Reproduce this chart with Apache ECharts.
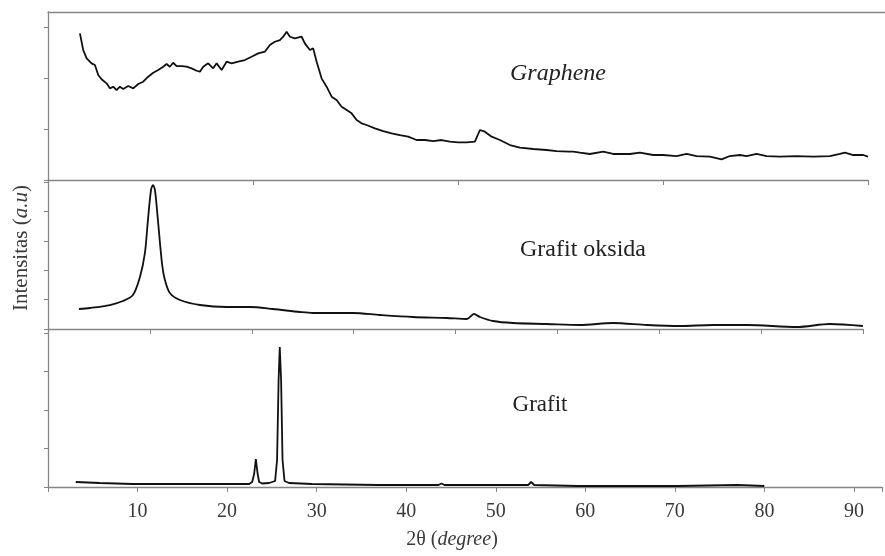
<!DOCTYPE html>
<html>
<head>
<meta charset="utf-8">
<script src="https://cdn.jsdelivr.net/npm/echarts@6/dist/echarts.min.js"></script>
<style>
  html, body { margin: 0; background: #fff; }
  #plot { width: 885px; height: 556px; }
</style>
</head>
<body>
<div id="plot"></div>
<script>
// Graphene (top panel), 2-theta vs intensity (a.u.)
const grapheneX = [3.55, 3.92, 4.30, 4.85, 5.22, 5.59, 5.96, 6.52, 6.89, 7.26, 7.63, 8.00, 8.37, 8.92, 9.48,
  10.04, 10.59, 11.15, 11.71, 12.26, 12.82, 13.20, 13.56, 13.93, 14.31, 14.87, 15.42, 15.98, 16.53, 16.90,
  17.27, 17.82, 18.38, 18.76, 19.32, 19.87, 20.43, 21.16, 21.91, 22.65, 23.39, 24.13, 24.69, 25.24, 25.80,
  26.17, 26.55, 26.92, 27.47, 28.22, 28.58, 29.14, 29.51, 29.89, 30.44, 31.00, 31.56, 32.11, 32.67, 33.23,
  33.78, 34.34, 34.89, 35.45, 36.37, 37.30, 38.23, 39.15, 40.08, 41.01, 41.94, 42.86, 43.79, 44.72, 45.64,
  46.58, 47.50, 48.06, 48.61, 49.36, 50.28, 51.40, 52.51, 53.99, 55.48, 56.59, 57.96, 58.44, 59.19, 60.29,
  61.78, 62.89, 64.75, 65.86, 67.34, 68.45, 69.94, 71.05, 72.17, 73.65, 74.95, 75.87, 76.99, 77.73, 78.84,
  79.96, 81.44, 83.29, 85.14, 87.00, 88.11, 88.67, 89.60, 90.71, 91.24];
const grapheneY = [2875, 2548, 2385, 2287, 2254, 2058, 1974, 1895, 1797, 1829, 1764, 1829, 1784, 1842, 1797,
  1882, 1927, 2025, 2103, 2156, 2221, 2274, 2221, 2299, 2234, 2234, 2221, 2189, 2142, 2123,
  2221, 2287, 2189, 2287, 2156, 2319, 2287, 2319, 2352, 2417, 2483, 2515, 2646, 2711, 2744,
  2809, 2907, 2809, 2777, 2809, 2679, 2548, 2581, 2319, 1993, 1829, 1633, 1568, 1437, 1372,
  1307, 1176, 1111, 1078, 1013, 960, 915, 882, 849, 784, 784, 764, 784, 751, 739,
  739, 751, 980, 947, 849, 784, 686, 633, 608, 588, 568, 555, 555, 536, 510,
  555, 510, 510, 536, 490, 490, 470, 510, 470, 457, 405, 470, 490, 470, 510,
  470, 457, 470, 457, 470, 510, 536, 490, 490, 457];

// Grafit oksida (middle panel)
const oksidaX = [3.44, 4.66, 6.89, 8.33, 9.45, 10.23, 10.78, 11.12, 11.46, 11.68, 11.90, 12.23, 12.68, 13.01,
  13.56, 14.68, 16.90, 19.91, 22.47, 25.02, 28.03, 29.47, 33.93, 36.93, 40.60, 44.38, 46.61, 47.39, 48.06,
  49.50, 51.73, 55.51, 59.18, 62.86, 66.64, 70.32, 73.98, 77.76, 83.33, 86.99, 90.67];
const oksidaY = [680, 714, 816, 952, 1156, 1768, 2584, 3706, 4726, 4896, 4726, 3706, 2244, 1666,
  1224, 986, 816, 748, 748, 680, 578, 544, 544, 476, 408, 374, 340, 510, 408,
  272, 204, 170, 136, 204, 136, 102, 136, 136, 68, 170, 102];

// Grafit (bottom panel)
const grafitX = [3.10, 5.77, 9.45, 16.90, 22.46, 22.80, 23.02, 23.21, 23.41, 23.58, 23.91, 24.69, 25.36, 25.58,
  25.75, 25.88, 26.03, 26.19, 26.41, 26.92, 29.47, 36.93, 43.60, 43.94, 44.27, 48.06, 53.62, 53.95, 54.29,
  59.18, 70.32, 76.98, 79.99];
const grafitY = [130, 104, 78, 78, 78, 130, 338, 727, 338, 130, 91, 104, 156, 701,
  2779, 3636, 2779, 701, 156, 104, 78, 52, 52, 91, 52, 52, 52, 130, 52,
  26, 26, 52, 26];

const yTicks = [0, 1000, 2000, 3000, 4000, 5000];
const panelNames = ['Graphene', 'Grafit oksida', 'Grafit'];

const pairs = (xs, ys) => xs.map((x, i) => [x, ys[i]]);

const chart = echarts.init(document.getElementById('plot'));
const axisGray = '#858585';
const serif = 'Liberation Serif';

function yAxisFor(gridIndex, max) {
  return {
    type: 'value', gridIndex, min: 0, max,
    axisLine: { show: true, lineStyle: { color: axisGray, width: 1.3 } },
    axisTick: { show: true, length: 4, lineStyle: { color: axisGray }, customValues: yTicks.filter(v => v < max) },
    axisLabel: { show: false },
    splitLine: { show: false }
  };
}

function xAxisFor(gridIndex, max, interval, extra) {
  return Object.assign({
    type: 'value', gridIndex, min: 0, max, interval,
    axisLine: { show: true, onZero: false, lineStyle: { color: axisGray, width: 1.3 } },
    axisTick: { show: true, length: 5, lineStyle: { color: axisGray } },
    axisLabel: { show: false },
    splitLine: { show: false }
  }, extra || {});
}

const lineSeries = (idx, data, smooth) => ({
  type: 'line', xAxisIndex: idx, yAxisIndex: idx, data,
  showSymbol: false, smooth: smooth || false, animation: false,
  lineStyle: { color: '#111', width: 1.8 }
});

chart.setOption({
  animation: false,
  grid: [
    { left: 48, right: 17, top: 12, height: 168 },
    { left: 48, right: 22, top: 180, height: 149 },
    { left: 48, right: 0, top: 329, height: 158 },
    { left: 48, right: 0, top: 12, height: 168 }
  ],
  xAxis: [
    xAxisFor(0, 91.24, 22.81),
    xAxisFor(1, 90.68, 11.335),
    xAxisFor(2, 93.13, 10, {
      axisLabel: {
        show: true, margin: 15, color: '#3a3a3a', fontFamily: serif, fontSize: 20,
        formatter: v => (v > 0 && v % 10 === 0) ? String(v) : ''
      },
      name: '{n|2θ (}{i|degree}{n|)}',
      nameLocation: 'middle', nameGap: 43,
      nameTextStyle: {
        padding: [0, 26, 0, 0],
        rich: {
          n: { fontFamily: serif, fontSize: 20, color: '#3a3a3a' },
          i: { fontFamily: serif, fontSize: 20, fontStyle: 'italic', color: '#3a3a3a' }
        }
      }
    }),
    xAxisFor(3, 93.13, 10, { position: 'top', axisTick: { show: false } })
  ],
  yAxis: [
    yAxisFor(0, 3294),
    Object.assign(yAxisFor(1, 5068), {
      name: '{n|Intensitas (}{i|a.u}{n|)}',
      nameLocation: 'middle', nameGap: 16, nameRotate: 90,
      nameTextStyle: {
        padding: [0, 0, 0, 13],
        rich: {
          n: { fontFamily: serif, fontSize: 21, color: '#3a3a3a' },
          i: { fontFamily: serif, fontSize: 21, fontStyle: 'italic', color: '#3a3a3a' }
        }
      }
    }),
    yAxisFor(2, 4103),
    { type: 'value', gridIndex: 3, show: false }
  ],
  series: [
    lineSeries(0, pairs(grapheneX, grapheneY)),
    lineSeries(1, pairs(oksidaX, oksidaY), 0.3),
    lineSeries(2, pairs(grafitX, grafitY))
  ],
  graphic: [
    { type: 'text', x: 558, y: 74, style: { text: panelNames[0], font: 'italic 24px "Liberation Serif"', fill: '#222', align: 'center', verticalAlign: 'middle' } },
    { type: 'text', x: 583, y: 250, style: { text: panelNames[1], font: '24px "Liberation Serif"', fill: '#222', align: 'center', verticalAlign: 'middle' } },
    { type: 'text', x: 540, y: 405, style: { text: panelNames[2], font: '23px "Liberation Serif"', fill: '#222', align: 'center', verticalAlign: 'middle' } }
  ]
});
</script>
</body>
</html>
